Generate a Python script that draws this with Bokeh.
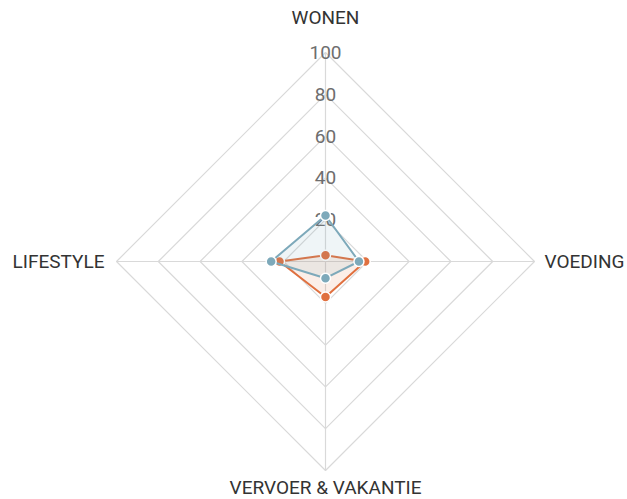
import numpy as np
from bokeh.plotting import figure
from bokeh.models import Range1d
from bokeh.core.properties import value
from bokeh.embed import file_html
from bokeh.resources import INLINE

categories = ["WONEN", "VOEDING", "VERVOER & VAKANTIE", "LIFESTYLE"]
angles_deg = [90, 0, 270, 180]
series_orange = [3, 19, 17, 22]
series_blue = [22, 16, 8, 26]
ticks = [20, 40, 60, 80, 100]

ORANGE = "#e0703f"
BLUE = "#7da9ba"
FONT = "Roboto"

PX = 2.09  # pixels per data unit
cx, cy = 325, 261
W, H = 627, 499

p = figure(width=W, height=H, output_backend="svg", toolbar_location=None,
           x_range=Range1d(-cx / PX, (W - cx) / PX),
           y_range=Range1d(-(H - cy) / PX, cy / PX),
           min_border=0, outline_line_color=None)
p.axis.visible = False
p.grid.visible = False

ang = np.radians(angles_deg)
cosA, sinA = np.cos(ang), np.sin(ang)

# grid rings
for t in ticks:
    xs = list(t * cosA) + [t * cosA[0]]
    ys = list(t * sinA) + [t * sinA[0]]
    p.line(xs, ys, line_color="#d9d9d9", line_width=1.2)
# spokes
for c, s in zip(cosA, sinA):
    p.line([0, 100 * c], [0, 100 * s], line_color="#d9d9d9", line_width=1.2)

# tick labels
p.text(x=[0] * len(ticks), y=ticks, text=[str(t) for t in ticks],
       text_align="center", text_baseline="middle", text_color="#6e6e6e",
       text_font=value(FONT), text_font_size="19px")

# category labels
offs = {
    "WONEN": (0, -35, "center"),
    "VOEDING": (10, 0, "left"),
    "VERVOER & VAKANTIE": (0, 17, "center"),
    "LIFESTYLE": (-12, 0, "right"),
}
for cat, c, s in zip(categories, cosA, sinA):
    xo, yo, al = offs[cat]
    p.text(x=[100 * c], y=[100 * s], text=[cat], x_offset=xo, y_offset=yo,
           text_align=al, text_baseline="middle", text_color="#333333",
           text_font=value(FONT), text_font_size="19px")

for vals, col in [(series_orange, ORANGE), (series_blue, BLUE)]:
    v = np.array(vals, dtype=float)
    xs = v * cosA
    ys = v * sinA
    p.patch(list(xs), list(ys), fill_color=col, fill_alpha=0.12, line_color=None)
    p.line(list(xs) + [xs[0]], list(ys) + [ys[0]], line_color=col, line_width=2)
    p.scatter(xs, ys, size=10, fill_color=col, line_color="white", line_width=1.5)

open("out.html", "w").write(file_html(p, INLINE))
